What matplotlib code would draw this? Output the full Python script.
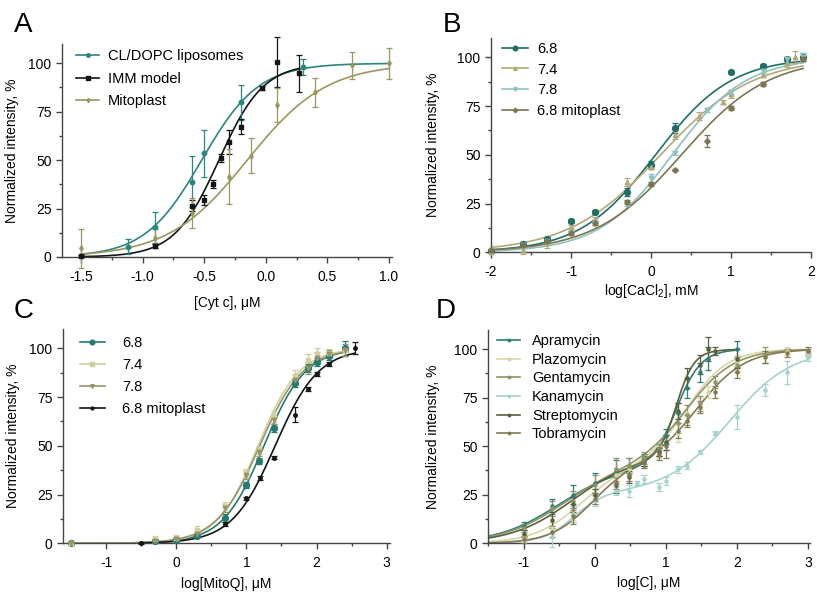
"""Four-panel dose-response figure (normalized intensity vs concentration)"""

import numpy as np
import matplotlib.pyplot as plt
from matplotlib.lines import Line2D
from matplotlib.ticker import MultipleLocator

plt.rcParams['font.family'] = ['Liberation Sans', 'DejaVu Sans']
plt.rcParams['mathtext.fontset'] = 'custom'
plt.rcParams['mathtext.rm'] = 'Liberation Sans'
plt.rcParams['mathtext.it'] = 'Liberation Sans:italic'

W, H = 817, 592

# ---------------- Panel A : [Cyt c] ----------------
a_labels = ['CL/DOPC liposomes', 'IMM model', 'Mitoplast']
a_colors = ['#2b8580', '#151515', '#9c9660']
a_markers = ['o', 's', 'd']
a_x = [
    [-1.12, -0.9, -0.6, -0.5, -0.2, 0.3],
    [-1.5, -0.9, -0.6, -0.5, -0.43, -0.36, -0.3, -0.2, -0.03, 0.09, 0.27],
    [-1.5, -0.9, -0.6, -0.3, -0.12, 0.09, 0.4, 0.7, 1.0],
]
a_y = [
    [5.3, 15.3, 38.9, 53.5, 79.9, 98.2],
    [0.5, 5.8, 26.5, 29.4, 37.5, 51.0, 59.4, 67.3, 87.4, 100.8, 94.8],
    [4.5, 9.6, 22.5, 41.5, 52.3, 78.5, 85.0, 99.0, 100.0],
]
a_err = [
    [4, 8, 13, 12, 9, 4],
    [0.5, 1, 3, 2.5, 2, 2, 6, 4, 1, 13, 9.7],
    [10, 5, 7.7, 14, 9, 8.8, 7.5, 7, 8],
]
a_ec50 = [-0.52, -0.38, -0.15]
a_slope = [1.88, 2.4, 1.35]
a_range = [(-1.5, 1.0), (-1.5, 0.27), (-1.5, 1.0)]

# ---------------- Panel B : log[CaCl2] ----------------
b_labels = ['6.8', '7.4', '7.8', '6.8 mitoplast']
b_colors = ['#1f6e66', '#b3a97a', '#8cc3bf', '#7d7550']
b_markers = ['o', '^', 'v', 'D']
b_x = [
    [-2, -1.6, -1.3, -1, -0.7, -0.3, 0, 0.3, 1.0, 1.4, 1.7, 1.9],
    [-2, -1.6, -1.3, -1, -0.7, -0.3, 0, 0.3, 0.6, 0.9, 1.0, 1.4, 1.7, 1.8],
    [-2, -1.6, -1.3, -1, -0.7, -0.3, 0, 0.3, 0.7, 1.0, 1.4, 1.7, 1.9],
    [-2, -1.6, -1.3, -1, -0.7, -0.3, 0, 0.3, 0.7, 1.0, 1.4, 1.9],
]
b_y = [
    [0.5, 4.5, 7, 16.2, 20.5, 31, 44.8, 63.6, 92.6, 95.5, 99, 100],
    [0, 1, 5, 13, 17, 36, 44, 60, 70, 77, 81, 91, 97, 100],
    [1, 4, 6, 10, 15, 25, 38, 51, 73, 82, 93, 99, 100],
    [1, 4, 6, 10, 15, 26, 35, 42, 57, 74, 86.5, 99],
]
b_err = [
    [0.5, 1, 1, 1, 1, 2, 2, 2.5, 0.5, 1, 1, 2],
    [0.5, 2, 3, 1, 1, 2, 1, 2, 2, 1, 2, 1, 2, 3],
    [0.5, 1, 1, 1, 1, 1, 2, 1, 1, 1, 1, 1, 2],
    [0.5, 1, 1, 1, 1, 1, 1, 0.5, 3, 1, 1, 1],
]
b_ec50 = [0.057, 0.12, 0.266, 0.38]
b_slope = [0.918, 0.75, 0.94, 0.8]
b_range = [(-2, 1.9), (-2, 1.9), (-2, 1.9), (-2, 1.9)]

# ---------------- Panel C : log[MitoQ] ----------------
c_labels = ['6.8', '7.4', '7.8', '6.8 mitoplast']
c_colors = ['#237a70', '#d3cf9e', '#989466', '#151515']
c_markers = ['o', 's', 'v', 'o']
c_x = [
    [-1.5, -0.3, 0, 0.3, 0.7, 1.0, 1.18, 1.4, 1.7, 1.88, 2.0, 2.18, 2.4],
    [-1.5, -0.3, 0, 0.3, 0.7, 1.0, 1.18, 1.4, 1.7, 1.88, 2.0, 2.18, 2.4],
    [-1.5, -0.3, 0, 0.3, 0.7, 1.0, 1.18, 1.4, 1.7, 1.88, 2.0, 2.18, 2.4],
    [-0.5, 0.7, 1.0, 1.2, 1.4, 1.7, 1.88, 2.0, 2.18, 2.55],
]
c_y = [
    [0, 1, 1.5, 4, 13, 30, 42, 59, 82, 90, 93, 96, 100],
    [0, 2, 2.5, 7, 19, 36, 48, 65, 86, 94, 97, 97.5, 99],
    [0, 1, 2, 5, 18, 35, 47, 63, 84, 90, 95, 97, 99],
    [0, 10, 23, 33.5, 44, 66, 79, 87, 92, 100],
]
c_err = [
    [0.5, 1, 1, 1, 2, 1.5, 1.5, 2, 2, 2, 2, 2, 4],
    [0.5, 2, 2, 2, 2, 2, 2, 3, 3, 3, 3, 2, 3],
    [0.5, 1, 1, 1, 2, 2, 2, 2, 3, 3, 3, 2, 3],
    [0.5, 1, 1, 1, 1, 4, 1, 1, 1, 3],
]
c_ec50 = [1.251, 1.168, 1.19, 1.41]
c_slope = [1.466, 1.483, 1.41, 1.4]
c_range = [(-1.5, 2.45), (-1.5, 2.45), (-1.5, 2.45), (-0.5, 2.55)]

# ---------------- Panel D : log[C] ----------------
d_labels = ['Apramycin', 'Plazomycin', 'Gentamycin', 'Kanamycin', 'Streptomycin', 'Tobramycin']
d_colors = ['#2e7f78', '#d9d5aa', '#8f9566', '#a6d2cd', '#5a5f3c', '#847a52']
d_markers = ['o', 'o', 'o', 'o', 'o', 'o']
d_x = [
    [-1, -0.6, -0.3, 0, 0.3, 0.48, 0.7, 0.9, 1.0, 1.18, 1.3, 1.48, 1.6, 2.0],
    [-1, -0.6, -0.3, 0, 0.3, 0.48, 0.7, 0.9, 1.0, 1.18, 1.3, 1.48, 1.6, 2.0, 2.4, 2.7, 3.0],
    [-1, -0.6, -0.3, 0, 0.3, 0.48, 0.7, 0.9, 1.0, 1.18, 1.3, 1.48, 1.7, 2.0, 2.4, 3.0],
    [-0.6, -0.3, 0, 0.3, 0.48, 0.6, 0.7, 0.9, 1.0, 1.18, 1.3, 1.48, 1.7, 2.0, 2.4, 2.7, 3.0],
    [-1, -0.6, -0.3, 0, 0.3, 0.48, 0.7, 0.9, 1.0, 1.18, 1.3, 1.48, 1.6, 1.7, 2.0],
    [-1, -0.6, -0.3, 0, 0.3, 0.48, 0.7, 0.9, 1.0, 1.18, 1.3, 1.48, 1.7, 2.0, 2.4, 2.7, 3.0],
]
d_y = [
    [9, 19, 25, 31, 37, 40, 43, 48, 55, 67, 80, 88, 95, 100],
    [3, 8, 15, 25, 35, 38, 42, 47, 52, 57, 67, 72, 78, 93, 96, 99, 97],
    [8, 18, 22, 30, 38, 40, 44, 48, 52, 62, 66, 72, 83, 92, 97, 99],
    [3, 15, 22, 27, 27, 31, 33, 29, 32, 38, 40, 47, 57, 65, 79, 88, 96],
    [5, 12, 20, 25, 30, 34, 42, 47, 52, 68, 85, 92, 100, 99, 95],
    [2, 6, 14, 23, 31, 35, 42, 46, 50, 58, 63, 70, 78, 88, 96, 98, 99],
]
d_err = [
    [2, 4, 5, 5, 6, 4, 3, 3, 4, 5, 5, 5, 6, 4],
    [2, 3, 3, 3, 4, 3, 3, 3, 4, 5, 4, 3, 3, 4, 3, 2, 1],
    [2, 4, 5, 5, 6, 4, 3, 3, 4, 5, 5, 4, 3, 4, 4, 1],
    [5, 4, 3, 2, 3, 1, 2, 2, 2, 2, 2, 1, 1, 6, 3, 6, 2],
    [2, 4, 4, 3, 4, 3, 2, 2, 4, 4, 5, 5, 6, 2, 5],
    [2, 3, 4, 3, 3, 3, 3, 3, 6, 4, 3, 3, 3, 3, 3, 2, 2],
]
# biphasic fit: first-phase fraction, ec50/slope of each phase
d_frac = [0.40, 0.40, 0.40, 0.26, 0.45, 0.40]
d_ec1 = [-0.5, -0.2, -0.45, -0.3, -0.3, -0.05]
d_h1 = [1.0, 1.3, 1.0, 2.0, 1.0, 1.5]
d_ec2 = [1.15, 1.3, 1.3, 1.9, 1.15, 1.45]
d_h2 = [2.5, 1.5, 1.3, 1.0, 3.5, 1.3]
d_range = [(-1.5, 2.0), (-1.5, 3.0), (-1.5, 3.0), (-1.5, 3.0), (-1.5, 2.0), (-1.5, 3.0)]


def hill(x, ec50, slope):
    return 100.0 / (1 + 10 ** ((ec50 - x) * slope))


def biphasic(x, frac, ec1, h1, ec2, h2):
    return frac * hill(x, ec1, h1) + (1 - frac) * hill(x, ec2, h2)


fig = plt.figure(figsize=(W / 100, H / 100), dpi=100)


def add_panel(x0, x1, ytop, ybot):
    """Axes from pixel box (top-left origin)"""
    return fig.add_axes([x0 / W, 1 - ybot / H, (x1 - x0) / W, (ybot - ytop) / H])


def style_axes(ax, xlim, xmajor, xminor, xlabel, ylabel_x, xlabel_y, fmt):
    ax.set_xlim(*xlim)
    ax.set_ylim(0, 110)
    for side in ['top', 'right']:
        ax.spines[side].set_visible(False)
    for side in ['left', 'bottom']:
        ax.spines[side].set_color('#444444')
        ax.spines[side].set_linewidth(1.0)
    ax.xaxis.set_major_locator(MultipleLocator(xmajor))
    ax.xaxis.set_minor_locator(MultipleLocator(xminor))
    ax.yaxis.set_major_locator(MultipleLocator(25))
    ax.yaxis.set_minor_locator(MultipleLocator(12.5))
    ax.set_yticks([0, 25, 50, 75, 100])
    ax.tick_params(which='major', length=4.5, width=1, color='#444444', labelsize=10, pad=3)
    ax.tick_params(axis='x', which='major', pad=5)
    ax.tick_params(which='minor', length=2.5, width=1, color='#444444')
    ax.xaxis.set_major_formatter(fmt)
    ax.set_xlabel(xlabel, fontsize=10)
    ax.set_ylabel('Normalized intensity, %', fontsize=10)
    ax.yaxis.set_label_coords(ylabel_x, 0.5)
    ax.xaxis.set_label_coords(0.5, xlabel_y)


def draw_series(ax, xs, ys, errs, colors, markers, sizes, curve_fn, ranges):
    for i in range(len(xs)):
        lo, hi = ranges[i]
        xx = np.linspace(lo, hi, 300)
        ax.plot(xx, curve_fn(i, xx), color=colors[i], lw=1.2, zorder=2)
        ax.errorbar(xs[i], ys[i], yerr=errs[i], fmt=markers[i], ms=sizes[i],
                    color=colors[i], ecolor=colors[i], elinewidth=0.9,
                    capsize=2, capthick=0.9, zorder=3, clip_on=False)


def add_legend(ax, labels, colors, markers, sizes, anchor, spacing, handlelen, textpad):
    handles = [Line2D([0], [0], color=c, marker=m, ms=s * 0.8, lw=1.2)
               for c, m, s in zip(colors, markers, sizes)]
    ax.legend(handles, labels, loc='upper left', bbox_to_anchor=(anchor[0] / W, 1 - anchor[1] / H),
              bbox_transform=fig.transFigure, frameon=False, fontsize=10.5,
              handlelength=handlelen, handletextpad=textpad, labelspacing=spacing,
              borderpad=0, borderaxespad=0)


def fmt1(v, pos):
    return f'{v:.1f}'


def fmt0(v, pos):
    return f'{v:.0f}'


# Panel A
axA = add_panel(62, 392, 43.9, 257)
a_sizes = [3.2, 3.2, 2.8]
draw_series(axA, a_x, a_y, a_err, a_colors, a_markers, a_sizes,
            lambda i, xx: hill(xx, a_ec50[i], a_slope[i]), a_range)
style_axes(axA, (-1.654, 1.025), 0.5, 0.25, '[Cyt c], μM', -0.13, -0.183, plt.FuncFormatter(fmt1))
add_legend(axA, a_labels, a_colors, a_markers, a_sizes, (76, 49), 0.6, 1.6, 0.6)

# Panel B
axB = add_panel(491, 811, 37.8, 252.3)
b_sizes = [4.2, 3.2, 3.2, 2.8]
draw_series(axB, b_x, b_y, b_err, b_colors, b_markers, b_sizes,
            lambda i, xx: hill(xx, b_ec50[i], b_slope[i]), b_range)
style_axes(axB, (-2, 2), 1, 0.5, 'log[CaCl$_2$], mM', -0.16, -0.14, plt.FuncFormatter(fmt0))
add_legend(axB, b_labels, b_colors, b_markers, b_sizes, (502, 42), 0.45, 1.8, 0.6)

# Panel C
axC = add_panel(63, 390, 328.8, 543.3)
c_sizes = [4.2, 3.2, 3.2, 2.5]
draw_series(axC, c_x, c_y, c_err, c_colors, c_markers, c_sizes,
            lambda i, xx: hill(xx, c_ec50[i], c_slope[i]), c_range)
style_axes(axC, (-1.613, 3.047), 1, 0.5, 'log[MitoQ], μM', -0.13, -0.155, plt.FuncFormatter(fmt0))
add_legend(axC, c_labels, c_colors, c_markers, c_sizes, (80, 336), 0.55, 1.7, 1.2)

# Panel D
axD = add_panel(488, 810, 329.6, 543.3)
d_sizes = [2.2] * 6
draw_series(axD, d_x, d_y, d_err, d_colors, d_markers, d_sizes,
            lambda i, xx: biphasic(xx, d_frac[i], d_ec1[i], d_h1[i], d_ec2[i], d_h2[i]), d_range)
style_axes(axD, (-1.5, 3.03), 1, 0.5, 'log[C], μM', -0.15, -0.155, plt.FuncFormatter(fmt0))
add_legend(axD, d_labels, d_colors, d_markers, d_sizes, (497, 334), 0.32, 1.6, 0.8)

# Panel letters
for letter, (px, py) in zip('ABCD', [(14, 32), (443, 32), (14, 318), (436, 318)]):
    fig.text(px / W, 1 - py / H, letter, fontsize=20, ha='left', va='baseline')

fig.savefig('out.png', dpi=100)
